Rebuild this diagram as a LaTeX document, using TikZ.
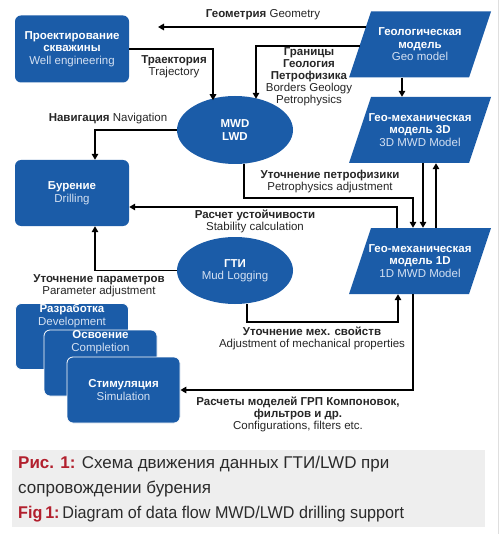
\documentclass[tikz,border=0pt]{standalone}
\usepackage{fontspec}
\setmainfont{Liberation Sans}
\newfontfamily\capnarrow[FakeStretch=0.95]{Liberation Sans}
\usetikzlibrary{arrows.meta,calc,shapes.geometric}
\definecolor{myblue}{HTML}{1B5CA8}
\definecolor{lightt}{HTML}{D3E0F2}
\definecolor{capred}{HTML}{B21F2D}
\definecolor{captext}{HTML}{2B2B2B}
\definecolor{capbg}{HTML}{EEEEEE}
\definecolor{entext}{HTML}{262626}
\newcommand\entxt[1]{\textcolor{lightt}{#1}}
\tikzset{
  shapefont/.style={font=\fontsize{11.5}{12.5}\selectfont},
  box/.style={shapefont, fill=myblue, rounded corners=6pt, minimum width=114pt, minimum height=67pt, inner sep=0pt, text=white, align=center},
  stackbox/.style={box, draw=white, line width=0.8pt, minimum width=113pt, minimum height=66pt},
  ell/.style={shapefont, ellipse, fill=myblue, minimum width=116pt, minimum height=68pt, inner sep=0pt, text=white, align=center},
  ptext/.style={shapefont, minimum width=120pt, minimum height=66pt, inner sep=0pt, text=white, align=center},
  inbox/.style={shapefont, inner sep=0pt, text=white, align=center},
  lbl/.style={align=center, inner sep=0pt, font=\fontsize{11.5}{12}\selectfont, text=entext},
  flow/.style={line width=1.5pt, -{Triangle[length=6pt,width=6.5pt]}},
  paral/.style={fill=myblue},
  captxt/.style={anchor=base west, inner sep=0pt, font=\fontsize{17}{25}\selectfont, text=captext}
}
\begin{document}
\begin{tikzpicture}[x=1pt,y=-1pt]
\useasboundingbox (0,0) rectangle (500,534);
\fill[white] (0,0) rectangle (500,534);
\draw[gray!25, line width=0.8pt] (498,0) -- (498,534);

% parallelograms
\fill[paral] (349,77.5) -- (469,77.5) -- (491,11.5) -- (371,11.5) -- cycle;
\fill[paral] (349,163) -- (469,163) -- (491,97) -- (371,97) -- cycle;
\fill[paral] (349,294) -- (469,294) -- (491,228) -- (371,228) -- cycle;

% nodes
\node[box] (we) at (72,49) {\textbf{Проектирование}\\\textbf{скважины}\\\entxt{Well engineering}};
\node[box, minimum height=66pt] (drill) at (72,193) {\textbf{Бурение}\\\entxt{Drilling}};
\node[ptext] (geo) at (420,44.5) {\textbf{Геологическая}\\\textbf{модель}\\\entxt{Geo model}};
\node[ptext] (m3d) at (420,130) {\textbf{Гео-механическая}\\\textbf{модель 3D}\\\entxt{3D MWD Model}};
\node[ptext] (m1d) at (420,261) {\textbf{Гео-механическая}\\\textbf{модель 1D}\\\entxt{1D MWD Model}};
\node[ell] (mwd) at (235,130) {\textbf{MWD}\\\textbf{LWD}};
\node[ell, minimum height=67pt] (gti) at (235,270.5) {\textbf{ГТИ}\\\entxt{Mud Logging}};

\node[stackbox] (dev) at (72,336.5) {};
\node[inbox] (devt) at (72,316) {\textbf{Разработка}\\\entxt{Development}};
\node[stackbox] (comp) at (100.5,363) {};
\node[inbox] (compt) at (100.5,342) {\textbf{Освоение}\\\entxt{Completion}};
\node[stackbox] (sim) at (123.5,390) {\textbf{Стимуляция}\\\entxt{Simulation}};

% edge points
\coordinate (geoL1) at (365.9,27);
\coordinate (geoL2) at (359.5,46);
\coordinate (geoEnd) at (158,27);

% connectors
\draw[flow] (geoL1) -- (geoEnd);
\draw[flow] (we.east) -| ($(mwd.south)+(-22,-66)$) -- ($(mwd.south)+(-22,-64)$);
\draw[flow] (geoL2) -| ($(mwd.north)+(21,3)$);
\draw[flow] (mwd.west) -| ($(drill.north)+(23,0)$);
\draw[flow] ($(geo.south)+(-18,0)$) -- ($(m3d.north)+(-18,0)$);
\draw[flow] ($(m3d.south)+(3,0)$) -- ($(m1d.north)+(3,0)$);
\draw[flow] ($(m1d.north)+(16,0)$) -- ($(m3d.south)+(16,0)$);
\draw[flow] ($(mwd.south)+(9,0)$) |- ($(m1d.north)+(-7,-30)$) -- ($(m1d.north)+(-7,0)$);
\draw[flow] ($(m1d.north)+(-23,0)$) |- ($(drill.east)+(0,14)$);
\draw[flow] (gti.west) -| ($(drill.south)+(23,0)$);
\draw[flow] ($(gti.south)+(12,0)$) |- ($(m1d.south)+(-22,28)$) -- ($(m1d.south)+(-22,0)$);
\draw[flow] ($(m1d.south)+(-7,0)$) |- (sim.east);

% labels
\node[lbl] (lgeo) at (263,15) {\textbf{Геометрия} Geometry};
\node[lbl] (ltraj) at (174,66.5) {\textbf{Траектория}\\Trajectory};
\node[lbl] (lbord) at (309,77) {\textbf{Границы}\\\textbf{Геология}\\\textbf{Петрофизика}\\Borders Geology\\Petrophysics};
\node[lbl] (lnav) at (108,119) {\textbf{Навигация} Navigation};
\node[lbl] (lpetro) at (330,182) {\textbf{Уточнение петрофизики}\\Petrophysics adjustment};
\node[lbl] (lstab) at (255,221.5) {\textbf{Расчет устойчивости}\\Stability calculation};
\node[lbl] (lpar) at (99,286) {\textbf{Уточнение параметров}\\Parameter adjustment};
\node[lbl] (lmech) at (312,338.5) {\textbf{Уточнение мех. свойств}\\Adjustment of mechanical properties};
\node[lbl] (lconf) at (298,414.5) {\textbf{Расчеты моделей ГРП Компоновок,}\\\textbf{фильтров и др.}\\Configurations, filters etc.};

% caption
\fill[capbg] (12,450) rectangle (485,527);
\node[captxt] (cap1) at (18,468) {\textcolor{capred}{\textbf{Рис. 1:}} Схема движения данных ГТИ/LWD при};
\node[captxt] (cap2) at (18,493) {сопровождении бурения};
\node[captxt, font=\fontsize{17}{25}\capnarrow] (cap3) at (18,518) {\textcolor{capred}{\textbf{Fig\,1:}}\,Diagram of data flow MWD/LWD drilling support};
\end{tikzpicture}
\end{document}
